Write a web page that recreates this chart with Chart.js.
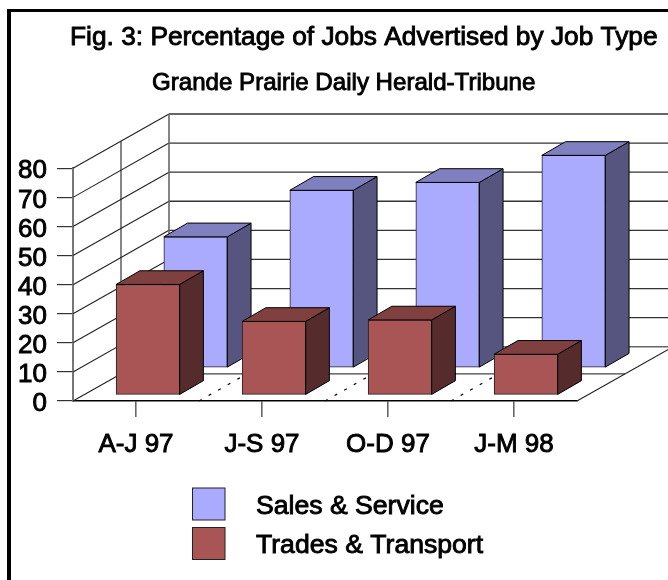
<!DOCTYPE html>
<html>
<head>
<meta charset="utf-8">
<style>html,body{margin:0;padding:0;background:#fff;overflow:hidden}canvas{display:block}</style>
<script src="https://cdn.jsdelivr.net/npm/chart.js@4"></script>
</head>
<body>
<canvas id="c" width="668" height="580"></canvas>
<script>
const categories = ['A-J 97', 'J-S 97', 'O-D 97', 'J-M 98'];
const salesService = [45, 61, 63.7, 73];
const tradesTransport = [38, 25.3, 25.8, 14];
const seriesNames = ['Sales & Service', 'Trades & Transport'];
const titleText = 'Fig. 3: Percentage of Jobs Advertised by Job Type';
const subtitleText = 'Grande Prairie Daily Herald-Tribune';

const FONT = '"Liberation Sans", Arial, sans-serif';
const TEXT_STROKE = 0.9;
const DEPTH_X = 96, DEPTH_Y = 54.3;        // wall depth
const BAR_DX = 23.7, BAR_DY = 13.7;        // bar depth
const shifts = [{dx: 59.6, dy: 33.3}, {dx: 11.9, dy: 6}];
const faces = [
  {top: '#8080C0', side: '#555580'},
  {top: '#804040', side: '#552B2B'}
];

function text(ctx, s, x, y, size, align) {
  ctx.font = size + 'px ' + FONT;
  ctx.textAlign = align || 'left';
  ctx.textBaseline = 'middle';
  ctx.fillStyle = '#000';
  ctx.strokeStyle = '#000';
  ctx.lineWidth = TEXT_STROKE;
  ctx.fillText(s, x, y);
  ctx.strokeText(s, x, y);
}
function line(ctx, x1, y1, x2, y2, color, w) {
  ctx.beginPath();
  ctx.moveTo(x1, y1);
  ctx.lineTo(x2, y2);
  ctx.strokeStyle = color;
  ctx.lineWidth = w;
  ctx.stroke();
}
function poly(ctx, pts, fill) {
  ctx.beginPath();
  pts.forEach((p, i) => i ? ctx.lineTo(p[0], p[1]) : ctx.moveTo(p[0], p[1]));
  ctx.closePath();
  ctx.fillStyle = fill;
  ctx.fill();
  ctx.strokeStyle = '#000';
  ctx.lineWidth = 1;
  ctx.lineJoin = 'round';
  ctx.stroke();
}

const scene = {
  id: 'scene',
  afterDatasetsUpdate(chart) {
    chart.data.datasets.forEach((d, i) => {
      chart.getDatasetMeta(i).data.forEach(el => {
        el.x += shifts[i].dx;
        el.y -= shifts[i].dy;
        el.base -= shifts[i].dy;
      });
    });
  },
  beforeDatasetsDraw(chart) {
    const ctx = chart.ctx, a = chart.chartArea, y = chart.scales.y, x = chart.scales.x;
    ctx.save();
    // walls
    y.ticks.forEach(t => {
      const py = y.getPixelForValue(t.value);
      line(ctx, a.left, py, a.left + DEPTH_X, py - DEPTH_Y, '#222', 1.1);
      if (t.value > 0) line(ctx, a.left + DEPTH_X, py - DEPTH_Y, 668, py - DEPTH_Y, '#333', 1.3);
    });
    const y0 = y.getPixelForValue(0), y80 = y.getPixelForValue(80);
    line(ctx, a.left + DEPTH_X, y80 - DEPTH_Y, a.left + DEPTH_X, y0 - DEPTH_Y, '#666', 1.6);
    line(ctx, a.left + DEPTH_X / 2, y80 - DEPTH_Y / 2, a.left + DEPTH_X / 2, y0 - DEPTH_Y / 2, '#222', 1.1);
    // floor
    line(ctx, a.left + DEPTH_X, y0 - DEPTH_Y, 668, y0 - DEPTH_Y, '#666', 1.6);
    line(ctx, a.left + DEPTH_X / 2, y0 - DEPTH_Y / 2, a.right + DEPTH_X / 2, y0 - DEPTH_Y / 2, '#444', 1.4);
    line(ctx, a.right, y0, a.right + DEPTH_X, y0 - DEPTH_Y, '#222', 1.1);
    // dotted floor separators
    ctx.setLineDash([3, 8]);
    categories.forEach((c, i) => {
      if (i === categories.length - 1) return;
      const bx = x.getPixelForValue(i) + 63;
      line(ctx, bx, y0, bx + DEPTH_X / 2, y0 - DEPTH_Y / 2, '#000', 1.2);
    });
    ctx.setLineDash([]);
    ctx.restore();
  },
  afterDatasetDraw(chart, args) {
    const ctx = chart.ctx, f = faces[args.index];
    ctx.save();
    args.meta.data.forEach(el => {
      const l = el.x - el.width / 2, r = el.x + el.width / 2, t = el.y, b = el.base;
      poly(ctx, [[r, b], [r, t], [r + BAR_DX, t - BAR_DY], [r + BAR_DX, b - BAR_DY]], f.side);
      poly(ctx, [[l, t], [r, t], [r + BAR_DX, t - BAR_DY], [l + BAR_DX, t - BAR_DY]], f.top);
    });
    ctx.restore();
  },
  afterDraw(chart) {
    const ctx = chart.ctx;
    ctx.save();
    // outer frame
    ctx.fillStyle = '#000';
    ctx.fillRect(7, 9, 4, 571);
    ctx.fillRect(7, 9, 661, 3);
    // titles
    text(ctx, titleText, 70, 38, 26.3);
    text(ctx, subtitleText, 152, 83, 24.1);
    // legend
    chart.data.datasets.forEach((d, i) => {
      const top = i === 0 ? 488 : 527.5;
      ctx.fillStyle = d.backgroundColor;
      ctx.fillRect(192.5, top, 32.5, 32);
      ctx.strokeStyle = '#222';
      ctx.lineWidth = 1;
      ctx.strokeRect(192.5, top, 32.5, 32);
      text(ctx, d.label, 256, top + 18.5, 26.6);
    });
    ctx.restore();
  }
};

new Chart(document.getElementById('c'), {
  type: 'bar',
  data: {
    labels: categories,
    datasets: [
      {label: seriesNames[0], data: salesService, backgroundColor: '#AAAAFF', borderColor: '#222', borderWidth: 1, borderSkipped: false, clip: false, order: 2},
      {label: seriesNames[1], data: tradesTransport, backgroundColor: '#AA5555', borderColor: '#222', borderWidth: 1, borderSkipped: false, clip: false, order: 1}
    ]
  },
  options: {
    responsive: false,
    animation: false,
    devicePixelRatio: 1,
    layout: {padding: {left: 0, right: 91, top: 168.3, bottom: 0}},
    datasets: {bar: {grouped: false, barThickness: 63.5}},
    plugins: {legend: {display: false}, title: {display: false}, tooltip: {enabled: false}},
    scales: {
      x: {
        offset: true,
        afterFit(s) { s.height = 179; },
        grid: {offset: false, drawOnChartArea: false, drawTicks: true, tickLength: 16, color: '#666', lineWidth: 1.6},
        border: {display: true, color: '#000', width: 1.5},
        ticks: {
          autoSkip: false, maxRotation: 0, padding: 12.5, color: '#000',
          textStrokeColor: '#000', textStrokeWidth: TEXT_STROKE,
          font: {family: FONT, size: 26}
        }
      },
      y: {
        min: 0, max: 80,
        afterFit(s) { s.width = 73; },
        grid: {drawOnChartArea: false, drawTicks: true, tickLength: 16, color: '#333', lineWidth: 1.2},
        border: {display: true, color: '#777', width: 2},
        ticks: {
          autoSkip: false, stepSize: 10, padding: 10, labelOffset: 3, color: '#000',
          textStrokeColor: '#000', textStrokeWidth: TEXT_STROKE,
          font: {family: FONT, size: 26}
        }
      }
    }
  },
  plugins: [scene]
});
</script>
</body>
</html>
